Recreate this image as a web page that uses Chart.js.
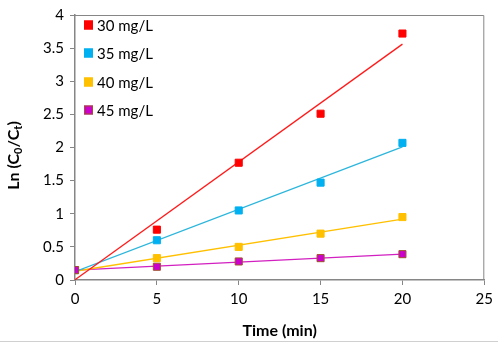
<!DOCTYPE html>
<html>
<head>
<meta charset="utf-8">
<script src="https://cdn.jsdelivr.net/npm/chart.js@4.4.1/dist/chart.umd.min.js"></script>
<style>
  html, body { margin: 0; padding: 0; background: #fff; }
  #wrap { width: 498px; height: 343px; position: relative; }
</style>
</head>
<body>
<div id="wrap"><canvas id="kinChart"></canvas></div>
<script>
// time axis (min)
const times = [0, 5, 10, 15, 20];
// Ln(C0/Ct) for each initial concentration
const c30 = [0.15, 0.76, 1.77, 2.51, 3.72];
const c35 = [0.15, 0.60, 1.05, 1.47, 2.07];
const c40 = [0.15, 0.33, 0.50, 0.70, 0.95];
const c45 = [0.15, 0.20, 0.28, 0.33, 0.39];
const seriesNames = ['30 mg/L', '35 mg/L', '40 mg/L', '45 mg/L'];
const xTicks = [0, 5, 10, 15, 20, 25];
const yTicks = [0, 0.5, 1, 1.5, 2, 2.5, 3, 3.5, 4];

const allSeries = [c30, c35, c40, c45];
const fillCols = ['#FF0000', '#00B0F0', '#FFC000', '#CC00CC'];
const edgeCols = ['#FF0000', '#00B0F0', '#FFC000', '#A0522D'];
const lineCols = ['#FF1A1A', '#2DB6DC', '#FFC000', '#D21FC0'];

// least squares fit, drawn as Excel-style trendline from first to last time
function fitLine(xs, ys) {
    const n = xs.length;
    const mx = xs.reduce((a, b) => a + b, 0) / n;
    const my = ys.reduce((a, b) => a + b, 0) / n;
    let sxy = 0, sxx = 0;
    for (let i = 0; i < n; i++) {
        sxy += (xs[i] - mx) * (ys[i] - my);
        sxx += (xs[i] - mx) * (xs[i] - mx);
    }
    const k = sxy / sxx;
    const b = my - k * mx;
    return [{x: xs[0], y: k * xs[0] + b}, {x: xs[n - 1], y: k * xs[n - 1] + b}];
}

const datasets = [];
allSeries.forEach((ys, i) => {
    datasets.push({
        type: 'line',
        label: 'trend' + i,
        data: fitLine(times, ys),
        borderColor: lineCols[i],
        borderWidth: 1.3,
        pointRadius: 0,
        fill: false,
        order: 10 + i
    });
});
allSeries.forEach((ys, i) => {
    datasets.push({
        type: 'scatter',
        label: seriesNames[i],
        data: times.map((t, j) => ({x: t, y: ys[j]})),
        backgroundColor: fillCols[i],
        borderColor: edgeCols[i],
        borderWidth: 1,
        pointStyle: 'rect',
        pointRadius: 5,
        pointHoverRadius: 5,
        order: 4 - i
    });
});

const GRAY = '#868686';
const FONT = 'Lato, "Open Sans", sans-serif';

const decorPlugin = {
    id: 'decor',
    afterDraw(chart) {
        const ctx = chart.ctx;
        const a = chart.chartArea;
        ctx.save();
        // plot area frame (top and right)
        ctx.strokeStyle = GRAY;
        ctx.lineWidth = 1;
        ctx.beginPath();
        ctx.moveTo(a.left, a.top + 0.5);
        ctx.lineTo(a.right - 0.5, a.top + 0.5);
        ctx.lineTo(a.right - 0.5, a.bottom);
        ctx.stroke();

        // bottom edge line of the picture
        ctx.strokeStyle = '#d0d0d0';
        ctx.beginPath();
        ctx.moveTo(0, 341.5);
        ctx.lineTo(498, 341.5);
        ctx.stroke();

        // legend inside plot
        ctx.font = '15px ' + FONT;
        ctx.textBaseline = 'middle';
        ctx.textAlign = 'left';
        const ly = [25, 53, 82, 110];
        seriesNames.forEach((name, i) => {
            ctx.fillStyle = fillCols[i];
            ctx.fillRect(84, ly[i] - 4.5, 9, 9);
            ctx.strokeStyle = edgeCols[i];
            ctx.strokeRect(84.5, ly[i] - 4, 8, 8);
            ctx.fillStyle = '#000';
            ctx.fillText(name, 97, ly[i] + 1);
        });

        // x title
        ctx.font = 'bold 16px ' + FONT;
        ctx.textAlign = 'center';
        ctx.fillText('Time (min)', (a.left + a.right) / 2, 331);

        // y title with subscripts
        ctx.translate(14, (a.top + a.bottom) / 2 + 8);
        ctx.rotate(-Math.PI / 2);
        const parts = [['Ln (C', false], ['0', true], ['/C', false], ['t', true], [')', false]];
        const big = 'bold 16px ' + FONT;
        const small = 'bold 11px ' + FONT;
        let total = 0;
        parts.forEach(p => { ctx.font = p[1] ? small : big; total += ctx.measureText(p[0]).width; });
        let x = -total / 2;
        ctx.textAlign = 'left';
        parts.forEach(p => {
            ctx.font = p[1] ? small : big;
            ctx.fillText(p[0], x, p[1] ? 4 : 0);
            x += ctx.measureText(p[0]).width;
        });
        ctx.restore();
    }
};

new Chart(document.getElementById('kinChart'), {
    data: { datasets: datasets },
    options: {
        responsive: true,
        maintainAspectRatio: false,
        animation: false,
        layout: { padding: { left: 0, right: 11, top: 8, bottom: 0 } },
        plugins: {
            legend: { display: false },
            tooltip: { enabled: false }
        },
        scales: {
            x: {
                type: 'linear',
                min: 0,
                max: 25,
                afterBuildTicks: (s) => { s.ticks = xTicks.map(v => ({value: v})); },
                afterFit: (s) => { s.height = 63; },
                grid: { drawOnChartArea: false, drawTicks: true, tickLength: 5, color: GRAY },
                border: { display: true, color: GRAY, width: 1.5 },
                ticks: { color: '#000', font: { family: FONT, size: 15 }, padding: 5, callback: (v) => String(v) }
            },
            y: {
                type: 'linear',
                min: 0,
                max: 4,
                afterBuildTicks: (s) => { s.ticks = yTicks.map(v => ({value: v})); },
                afterFit: (s) => { s.width = 75; },
                grid: { drawOnChartArea: false, drawTicks: true, tickLength: 5, color: GRAY },
                border: { display: true, color: GRAY, width: 1.5 },
                ticks: { color: '#000', font: { family: FONT, size: 15 }, padding: 6, callback: (v) => String(v) }
            }
        }
    },
    plugins: [decorPlugin]
});
</script>
</body>
</html>
